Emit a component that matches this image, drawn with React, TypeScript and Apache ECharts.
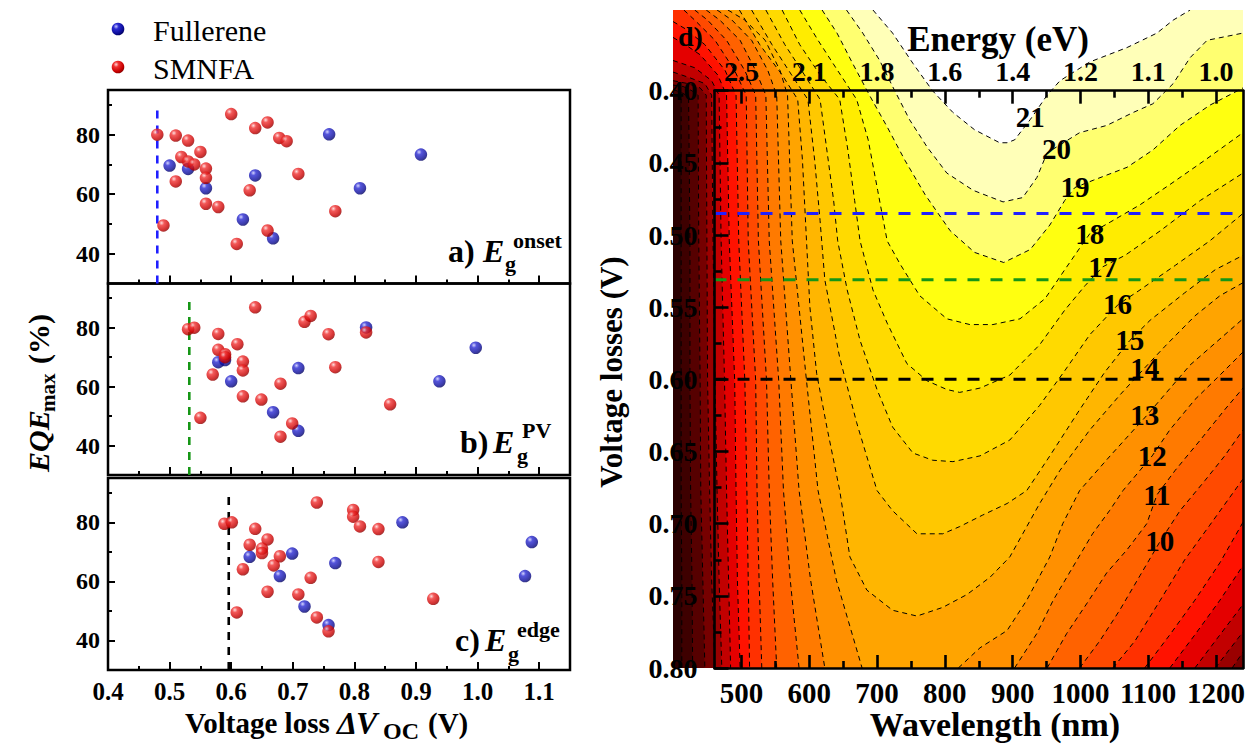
import React, { useEffect, useRef } from "react";
import * as echarts from "echarts";

const FONT = '"Liberation Serif", "Times New Roman", Times, serif';

// ---------------- Left panels: EQEmax vs voltage loss ----------------
const fullereneOnset = [[0.5, 69.6], [0.53, 68.5], [0.559, 62], [0.639, 66.3], [0.759, 80.1], [0.908, 73.3], [0.809, 62], [0.619, 51.5], [0.668, 45.2]];
const smnfaOnset = [[0.48, 80], [0.51, 79.7], [0.53, 78], [0.55, 74.2], [0.519, 72.5], [0.53, 71], [0.54, 70], [0.559, 68.6], [0.559, 65.5], [0.51, 64.3], [0.559, 56.8], [0.579, 55.7], [0.49, 49.5], [0.6, 86.9], [0.639, 82.2], [0.659, 84.1], [0.678, 78.9], [0.69, 77.8], [0.709, 66.8], [0.63, 61.3], [0.769, 54.3], [0.659, 47.8], [0.609, 43.3]];
const fullerenePV = [[0.579, 68.3], [0.59, 69], [0.6, 61.8], [0.709, 66.3], [0.819, 80.1], [0.997, 73.2], [0.938, 61.8], [0.668, 51.3], [0.709, 45]];
const smnfaPV = [[0.53, 79.5], [0.54, 80], [0.639, 86.9], [0.719, 82], [0.729, 84], [0.579, 77.9], [0.758, 77.8], [0.819, 78.4], [0.61, 74.4], [0.579, 72.5], [0.59, 71], [0.59, 70], [0.619, 68.5], [0.619, 65.5], [0.769, 66.6], [0.57, 64.1], [0.68, 61], [0.619, 56.7], [0.649, 55.6], [0.55, 49.4], [0.699, 47.5], [0.68, 43], [0.858, 54]];
const fullereneEdge = [[0.63, 68.3], [0.699, 69.4], [0.679, 61.8], [0.769, 66.2], [0.878, 80], [1.088, 73.3], [1.077, 61.8], [0.719, 51.5], [0.758, 45.2]];
const smnfaEdge = [[0.589, 79.5], [0.601, 80], [0.739, 86.7], [0.798, 84.2], [0.798, 81.9], [0.639, 77.8], [0.809, 78.6], [0.839, 77.7], [0.659, 74.2], [0.63, 72.4], [0.65, 71.1], [0.65, 69.6], [0.679, 68.5], [0.619, 64.1], [0.669, 65.4], [0.839, 66.6], [0.729, 61.2], [0.659, 56.5], [0.709, 55.6], [0.609, 49.5], [0.739, 47.8], [0.758, 43.1], [0.928, 54.1]];
const lossRange = [0.4, 1.15];
const eqeRange = [30, 95];
const eqeMajorTicks = [40, 60, 80];
const eqeMinorTicks = [50, 70, 90];
const panelMinLoss = [0.48, 0.532, 0.596];
const panelLineSpan = [30, 90];
const panelLetters = ["a)", "b)", "c)"];
const panelSuperscripts = ["onset", "PV", "edge"];

// ---------------- Right panel: efficiency contour map ----------------
const wavelengthRange = [460, 1240];
const lossRangeRight = [0.4, 0.8];
const wavelengthMajorTicks = [500, 600, 700, 800, 900, 1000, 1100, 1200];
const wavelengthMinorTicks = [550, 650, 750, 850, 950, 1050, 1150];
const energyTickLabels = ["2.5", "2.1", "1.8", "1.6", "1.4", "1.2", "1.1", "1.0"];
const rightMinLoss = [0.485, 0.531, 0.6];
const fieldWavelength = [399, 1240];
const fieldLoss = [0.344, 0.8];
const contourLevels = [1, 2, 3, 4, 5, 6, 7, 8, 9, 10, 11, 12, 13, 14, 15, 16, 17, 18, 19, 20, 21];
const contourSegments = [
  [[[399, 0.402], [405, 0.403], [411, 0.406], [411, 0.504], [411, 0.601], [411, 0.677], [412, 0.739], [412, 0.8]]],
  [[[399, 0.399], [415, 0.402], [422, 0.405], [424, 0.504], [424, 0.601], [425, 0.677], [427, 0.739], [428, 0.8]]],
  [[[399, 0.396], [414, 0.397], [427, 0.4], [436, 0.403], [437, 0.504], [439, 0.601], [440, 0.677], [443, 0.739], [446, 0.8]]],
  [[[399, 0.393], [421, 0.395], [439, 0.398], [448, 0.403], [449, 0.504], [450, 0.601], [453, 0.677], [456, 0.739], [461, 0.8]], [[1224, 0.8], [1240, 0.789]]],
  [[[399, 0.387], [424, 0.391], [446, 0.395], [456, 0.403], [458, 0.504], [461, 0.601], [464, 0.677], [467, 0.739], [471, 0.8]], [[1199, 0.8], [1240, 0.775]]],
  [[[399, 0.379], [431, 0.384], [456, 0.393], [467, 0.403], [470, 0.504], [475, 0.601], [478, 0.677], [481, 0.739], [484, 0.8]], [[1169, 0.8], [1206, 0.777], [1240, 0.756]]],
  [[[399, 0.363], [417, 0.368], [439, 0.375], [465, 0.389], [478, 0.403], [482, 0.504], [490, 0.601], [492, 0.677], [494, 0.739], [498, 0.8]], [[1132, 0.8], [1169, 0.777], [1206, 0.753], [1240, 0.729]]],
  [[[399, 0.352], [417, 0.357], [446, 0.368], [476, 0.386], [492, 0.403], [496, 0.504], [505, 0.601], [508, 0.677], [510, 0.739], [512, 0.8]], [[1095, 0.8], [1132, 0.777], [1169, 0.753], [1206, 0.727], [1240, 0.699]]],
  [[[415, 0.344], [431, 0.351], [461, 0.365], [490, 0.386], [507, 0.403], [510, 0.504], [521, 0.601], [523, 0.677], [526, 0.739], [530, 0.8]], [[1048, 0.8], [1081, 0.781], [1118, 0.753], [1154, 0.725], [1191, 0.701], [1240, 0.669]]],
  [[[431, 0.344], [450, 0.351], [478, 0.365], [505, 0.386], [521, 0.403], [525, 0.504], [537, 0.601], [541, 0.677], [546, 0.739], [552, 0.8]], [[999, 0.8], [1029, 0.781], [1058, 0.76], [1088, 0.736], [1118, 0.712], [1147, 0.691], [1184, 0.67], [1213, 0.653], [1240, 0.635]]],
  [[[448, 0.344], [468, 0.351], [498, 0.365], [521, 0.386], [536, 0.403], [541, 0.504], [555, 0.601], [562, 0.677], [572, 0.739], [585, 0.8]], [[951, 0.8], [980, 0.776], [1010, 0.755], [1039, 0.734], [1069, 0.718], [1098, 0.7], [1113, 0.68], [1140, 0.663], [1177, 0.642], [1213, 0.621], [1240, 0.606]]],
  [[[464, 0.344], [486, 0.351], [515, 0.365], [539, 0.386], [552, 0.403], [558, 0.504], [573, 0.601], [585, 0.677], [602, 0.739], [623, 0.8]], [[903, 0.8], [936, 0.776], [960, 0.753], [989, 0.73], [1018, 0.707], [1043, 0.691], [1063, 0.677], [1106, 0.653], [1132, 0.635], [1169, 0.614], [1206, 0.597], [1240, 0.581]]],
  [[[480, 0.344], [505, 0.351], [535, 0.365], [557, 0.386], [568, 0.403], [575, 0.504], [596, 0.601], [613, 0.677], [640, 0.739], [678, 0.8]], [[820, 0.8], [852, 0.786], [892, 0.774], [921, 0.753], [955, 0.723], [974, 0.7], [999, 0.677], [1044, 0.653], [1098, 0.625], [1162, 0.59], [1240, 0.558]]],
  [[[497, 0.344], [527, 0.368], [560, 0.389], [583, 0.406], [590, 0.448], [596, 0.504], [601, 0.55], [611, 0.596], [626, 0.633], [645, 0.677], [660, 0.723], [685, 0.746], [723, 0.76], [759, 0.764], [797, 0.758], [833, 0.749], [867, 0.737], [896, 0.723], [915, 0.707], [940, 0.686], [970, 0.663], [1014, 0.635], [1058, 0.611], [1095, 0.592], [1125, 0.577], [1169, 0.556], [1206, 0.542], [1240, 0.533]]],
  [[[515, 0.344], [545, 0.368], [574, 0.389], [598, 0.406], [608, 0.448], [616, 0.49], [623, 0.531], [645, 0.585], [670, 0.63], [700, 0.677], [723, 0.691], [759, 0.707], [797, 0.707], [822, 0.702], [856, 0.694], [892, 0.686], [921, 0.677], [955, 0.653], [999, 0.621], [1036, 0.595], [1073, 0.573], [1103, 0.559], [1154, 0.54], [1199, 0.524], [1240, 0.514]]],
  [[[536, 0.344], [564, 0.368], [593, 0.389], [616, 0.406], [628, 0.448], [636, 0.476], [642, 0.504], [656, 0.538], [675, 0.573], [700, 0.607], [723, 0.633], [753, 0.651], [782, 0.656], [812, 0.657], [852, 0.653], [896, 0.642], [940, 0.618], [977, 0.594], [1014, 0.569], [1056, 0.548], [1088, 0.538], [1140, 0.521], [1191, 0.504], [1240, 0.485]]],
  [[[560, 0.344], [586, 0.368], [616, 0.389], [645, 0.406], [657, 0.441], [667, 0.476], [675, 0.504], [694, 0.538], [715, 0.561], [744, 0.589], [774, 0.601], [803, 0.607], [822, 0.609], [852, 0.606], [896, 0.597], [940, 0.576], [977, 0.552], [1007, 0.535], [1033, 0.522], [1066, 0.514], [1118, 0.497], [1177, 0.476], [1240, 0.457]]],
  [[[586, 0.344], [613, 0.365], [642, 0.386], [670, 0.406], [687, 0.434], [701, 0.469], [715, 0.504], [734, 0.52], [763, 0.542], [803, 0.558], [837, 0.562], [871, 0.562], [911, 0.558], [948, 0.544], [977, 0.524], [1002, 0.507], [1014, 0.499], [1044, 0.491], [1088, 0.479], [1132, 0.465], [1184, 0.448], [1240, 0.429]]],
  [[[619, 0.344], [641, 0.36], [664, 0.381], [690, 0.404], [715, 0.425], [741, 0.448], [771, 0.472], [808, 0.497], [844, 0.512], [887, 0.519], [926, 0.51], [955, 0.493], [977, 0.476], [992, 0.467], [1019, 0.462], [1069, 0.453], [1107, 0.441], [1147, 0.424], [1191, 0.41], [1240, 0.398]]],
  [[[655, 0.344], [679, 0.36], [704, 0.379], [723, 0.397], [748, 0.42], [774, 0.439], [803, 0.457], [842, 0.469], [886, 0.477], [915, 0.474], [936, 0.46], [951, 0.443], [999, 0.429], [1039, 0.424], [1078, 0.415], [1107, 0.409], [1137, 0.395], [1162, 0.377], [1187, 0.365], [1240, 0.36]]],
  [[[694, 0.344], [723, 0.36], [753, 0.381], [782, 0.4], [812, 0.415], [844, 0.427], [881, 0.436], [892, 0.436], [903, 0.434], [926, 0.42], [951, 0.403], [970, 0.393], [1014, 0.38], [1069, 0.37], [1113, 0.36], [1137, 0.351], [1162, 0.344]]],
];
const contourCorners = [
  [[1240, 0.8], [1240, 0.344], [399, 0.344]],
  [[1240, 0.8], [1240, 0.344], [399, 0.344]],
  [[1240, 0.8], [1240, 0.344], [399, 0.344]],
  [[1240, 0.344], [399, 0.344]],
  [[1240, 0.344], [399, 0.344]],
  [[1240, 0.344], [399, 0.344]],
  [[1240, 0.344], [399, 0.344]],
  [[1240, 0.344], [399, 0.344]],
  [[1240, 0.344]], [[1240, 0.344]], [[1240, 0.344]], [[1240, 0.344]], [[1240, 0.344]],
  [[1240, 0.344]], [[1240, 0.344]], [[1240, 0.344]], [[1240, 0.344]], [[1240, 0.344]], [[1240, 0.344]], [[1240, 0.344]],
  [],
];
const contourLabelText = ["21", "20", "19", "18", "17", "16", "15", "14", "13", "12", "11", "10"];
const contourLabelPos = [[926, 0.418], [965, 0.44], [992, 0.467], [1014, 0.499], [1033, 0.522], [1055, 0.548], [1073, 0.573], [1095, 0.592], [1095, 0.625], [1106, 0.653], [1113, 0.68], [1117, 0.712]];

// styles
const bandColors = ["#2a0000", "#3e0000", "#560000", "#760000", "#9a0000", "#c20000", "#e40000", "#ff1200", "#ff3000", "#ff4a00", "#ff6200", "#ff7a00", "#ff9000", "#ffa400", "#ffb600", "#ffc800", "#ffda00", "#ffec00", "#ffff10", "#ffff70", "#ffffb8", "#ffffff"];
const thresholdColors = ["#1f1fff", "#169616", "#000000"];

const ball = (stops: string[]) =>
  new echarts.graphic.RadialGradient(0.35, 0.3, 0.75, [
    { offset: 0, color: stops[0] },
    { offset: 0.28, color: stops[1] },
    { offset: 0.75, color: stops[2] },
    { offset: 1, color: stops[3] },
  ]);

export default function App() {
  const ref = useRef<HTMLDivElement>(null);
  useEffect(() => {
    if (!ref.current) return;
    const chart = echarts.init(ref.current, undefined, { renderer: "svg" });
    const blueBall = ball(["#c8c8ff", "#2a2ad2", "#0c0c98", "#00005a"]);
    const redBall = ball(["#ffd6d6", "#f03030", "#c80000", "#860000"]);
    const bold = { fontFamily: FONT, fontWeight: "bold" as const, color: "#000" };

    const panelTops = [90, 283.5, 478];
    const panelHeights = [193.5, 191.5, 192];
    const panelData = [
      [fullereneOnset, smnfaOnset],
      [fullerenePV, smnfaPV],
      [fullereneEdge, smnfaEdge],
    ];

    const grid: any[] = [];
    const xAxis: any[] = [];
    const yAxis: any[] = [];
    const series: any[] = [];

    for (let i = 0; i < 3; i++) {
      grid.push({ left: 108, top: panelTops[i], width: 462, height: panelHeights[i], show: true, borderColor: "#000", borderWidth: 2.5, backgroundColor: "transparent" });
    }
    grid.push({ left: 673, top: 10, right: 5, bottom: 76 });
    grid.push({ left: 714.5, top: 90.7, right: 5, bottom: 76 });
    grid.push({ left: 714.5, top: 90.7, right: 5, bottom: 76 });
    for (let i = 0; i < 3; i++) grid.push({ left: 108, top: panelTops[i], width: 462, height: panelHeights[i] });

    for (let i = 0; i < 3; i++) {
      xAxis.push({
        type: "value", gridIndex: i, min: lossRange[0], max: lossRange[1], interval: 0.1,
        axisLine: { show: false },
        axisTick: { inside: true, length: 8, lineStyle: { color: "#000", width: 2 } },
        minorTick: { show: true, splitNumber: 2, length: 4, lineStyle: { color: "#000", width: 2 } },
        splitLine: { show: false },
        axisLabel: { show: i === 2, showMaxLabel: false, margin: 9, fontSize: 25, ...bold, formatter: (v: number) => v.toFixed(1) },
      });
    }
    xAxis.push({ type: "value", gridIndex: 3, min: fieldWavelength[0], max: fieldWavelength[1], show: false });
    const rightAxisCommon = { type: "value", gridIndex: 4, min: wavelengthRange[0], max: wavelengthRange[1], splitLine: { show: false }, z: 10 };
    xAxis.push({
      ...rightAxisCommon, position: "bottom",
      axisLine: { show: true, lineStyle: { color: "#000", width: 2.6 } },
      axisTick: { inside: true, length: 13, customValues: wavelengthMajorTicks, lineStyle: { color: "#000", width: 2.6 } },
      axisLabel: { customValues: wavelengthMajorTicks, margin: 10, fontSize: 29, ...bold, formatter: (v: number) => String(Math.round(v)) },
    });
    xAxis.push({
      ...rightAxisCommon, position: "top",
      axisLine: { show: true, lineStyle: { color: "#000", width: 2.6 } },
      axisTick: { inside: true, length: 13, customValues: wavelengthMajorTicks, lineStyle: { color: "#000", width: 2.6 } },
      axisLabel: { customValues: wavelengthMajorTicks, margin: 5, fontSize: 28, ...bold, formatter: (v: number) => energyTickLabels[wavelengthMajorTicks.indexOf(Math.round(v))] ?? "" },
    });
    for (const pos of ["bottom", "top"]) {
      xAxis.push({
        ...rightAxisCommon, gridIndex: 5, position: pos,
        axisLine: { show: false },
        axisTick: { inside: true, length: 7, customValues: wavelengthMinorTicks, lineStyle: { color: "#000", width: 2.6 } },
        axisLabel: { show: false },
      });
    }
    for (let i = 0; i < 3; i++) xAxis.push({ type: "value", gridIndex: 6 + i, min: lossRange[0], max: lossRange[1], show: false });

    for (let i = 0; i < 3; i++) {
      yAxis.push({
        type: "value", gridIndex: i, min: eqeRange[0], max: eqeRange[1],
        axisLine: { show: false }, splitLine: { show: false },
        axisTick: { inside: true, length: 7, customValues: eqeMajorTicks, lineStyle: { color: "#000", width: 2 } },
        axisLabel: { customValues: eqeMajorTicks, margin: 8, fontSize: 24, ...bold },
      });
    }
    yAxis.push({ type: "value", gridIndex: 3, min: fieldLoss[0], max: fieldLoss[1], inverse: true, show: false });
    yAxis.push({
      type: "value", gridIndex: 4, min: lossRangeRight[0], max: lossRangeRight[1], interval: 0.05, inverse: true, position: "left", z: 10,
      axisLine: { show: true, lineStyle: { color: "#000", width: 2.6 } },
      axisTick: { inside: true, length: 14, lineStyle: { color: "#000", width: 2.6 } },
      minorTick: { show: true, splitNumber: 2, length: 7, lineStyle: { color: "#000", width: 2.6 } },
      splitLine: { show: false },
      axisLabel: { margin: 17, fontSize: 28, ...bold, padding: [0, 0, 14, 0], formatter: (v: number) => v.toFixed(2) },
    });
    yAxis.push({
      type: "value", gridIndex: 4, min: lossRangeRight[0], max: lossRangeRight[1], inverse: true, position: "right", z: 10,
      axisLine: { show: true, lineStyle: { color: "#000", width: 2.6 } },
      axisTick: { show: false }, axisLabel: { show: false }, splitLine: { show: false },
    });
    yAxis.push({ type: "value", gridIndex: 5, min: lossRangeRight[0], max: lossRangeRight[1], show: false });
    for (let i = 0; i < 3; i++) {
      yAxis.push({
        type: "value", gridIndex: 6 + i, min: eqeRange[0], max: eqeRange[1],
        axisLine: { show: false }, splitLine: { show: false }, axisLabel: { show: false },
        axisTick: { inside: true, length: 4, customValues: eqeMinorTicks, lineStyle: { color: "#000", width: 2 } },
      });
    }

    for (let i = 0; i < 3; i++) {
      series.push({
        type: "line", xAxisIndex: i, yAxisIndex: i, symbol: "none", silent: true, z: 2,
        data: [[panelMinLoss[i], panelLineSpan[0]], [panelMinLoss[i], panelLineSpan[1]]],
        lineStyle: { color: thresholdColors[i], width: 2.6, type: [8, 7] },
      });
      series.push({ type: "scatter", name: "Fullerene", xAxisIndex: i, yAxisIndex: i, data: panelData[i][0], symbol: "circle", symbolSize: 12.5, itemStyle: { color: blueBall }, z: 3 });
      series.push({ type: "scatter", name: "SMNFA", xAxisIndex: i, yAxisIndex: i, data: panelData[i][1], symbol: "circle", symbolSize: 12.5, itemStyle: { color: redBall }, z: 4 });
    }

    const fieldRing = [[fieldWavelength[0], fieldLoss[0]], [fieldWavelength[1], fieldLoss[0]], [fieldWavelength[1], fieldLoss[1]], [fieldWavelength[0], fieldLoss[1]]];
    const rings = contourSegments.map((segs, i) => [...segs.flat(), ...contourCorners[i]]);
    const fillData = [[fieldWavelength[0], fieldLoss[0], 0], ...contourLevels.map((lv) => [fieldWavelength[0], fieldLoss[0], lv])];
    series.push({
      type: "custom", xAxisIndex: 3, yAxisIndex: 3, coordinateSystem: "cartesian2d", silent: true, clip: true, z: 1,
      data: fillData,
      renderItem: (_p: any, api: any) => {
        const lv = api.value(2);
        const ring = lv === 0 ? fieldRing : rings[lv - 1];
        return {
          type: "polygon",
          shape: { points: ring.map((pt: number[]) => api.coord(pt)) },
          style: { fill: bandColors[lv], stroke: bandColors[lv], lineWidth: 0.6 },
        };
      },
    });
    const segRefs: number[][] = [];
    contourSegments.forEach((segs, li) => segs.forEach((_s, si) => segRefs.push([fieldWavelength[0], fieldLoss[0], li, si])));
    series.push({
      type: "custom", xAxisIndex: 3, yAxisIndex: 3, coordinateSystem: "cartesian2d", silent: true, clip: true, z: 2,
      data: segRefs,
      renderItem: (_p: any, api: any) => {
        const seg = contourSegments[api.value(2)][api.value(3)];
        return {
          type: "polyline",
          shape: { points: seg.map((pt: number[]) => api.coord(pt)) },
          style: { stroke: "#000", lineWidth: 1, lineDash: [5, 4], fill: null },
        };
      },
    });
    series.push({
      type: "custom", xAxisIndex: 3, yAxisIndex: 3, coordinateSystem: "cartesian2d", silent: true, z: 3,
      data: contourLabelPos.map((p, i) => [p[0], p[1], i]),
      renderItem: (_p: any, api: any) => {
        const pt = api.coord([api.value(0), api.value(1)]);
        return {
          type: "text", x: pt[0], y: pt[1],
          style: { text: contourLabelText[api.value(2)], fill: "#000", fontSize: 29, fontWeight: "bold", fontFamily: FONT, align: "center", verticalAlign: "middle" },
        };
      },
    });
    rightMinLoss.forEach((v, i) => {
      series.push({
        type: "line", xAxisIndex: 4, yAxisIndex: 4, symbol: "none", silent: true, z: 5,
        data: [[wavelengthRange[0], v], [wavelengthRange[1], v]],
        lineStyle: { color: thresholdColors[i], width: 3, type: [12, 11] },
      });
    });

    const txt = (text: string, x: number, y: number, size: number, extra: any = {}) => ({
      type: "text", x, y, z: 100,
      style: { text, fontSize: size, fontFamily: FONT, fontWeight: "bold", fill: "#000", align: "left", verticalAlign: "middle", ...extra },
    });

    const graphic: any[] = [
      { type: "circle", shape: { cx: 118, cy: 29, r: 6.3 }, style: { fill: blueBall }, z: 100 },
      { type: "circle", shape: { cx: 118, cy: 67, r: 6.3 }, style: { fill: redBall }, z: 100 },
      txt("Fullerene", 153, 30, 30, { fontWeight: "normal" }),
      txt("SMNFA", 153, 68, 30, { fontWeight: "normal" }),
      txt(panelLetters[0], 448, 251, 32), txt("E", 483, 251, 32, { fontStyle: "italic" }), txt("g", 505, 263, 22), txt(panelSuperscripts[0], 513, 240, 22),
      txt(panelLetters[1], 460, 442, 32), txt("E", 493, 442, 32, { fontStyle: "italic" }), txt("g", 517, 455, 22), txt(panelSuperscripts[1], 522, 430, 22),
      txt(panelLetters[2], 455, 640, 32), txt("E", 485, 640, 32, { fontStyle: "italic" }), txt("g", 508, 653, 22), txt(panelSuperscripts[2], 517, 629, 22),
      txt("Voltage loss", 185, 723, 29),
      txt("Δ", 337, 723, 32, { fontStyle: "italic" }), txt("V", 356, 723, 32, { fontStyle: "italic" }),
      txt("OC", 383, 731, 24), txt("(V)", 428, 723, 29),
      {
        type: "group", x: 38, y: 386, rotation: Math.PI / 2, z: 100,
        children: [
          txt("EQE", -86, 0, 30, { fontStyle: "italic" }),
          txt("max", -26, 10, 21),
          txt("(%)", 22, 0, 30),
        ],
      },
      txt("Energy (eV)", 998, 39, 35, { align: "center" }),
      txt("Wavelength (nm)", 995, 724, 34, { align: "center" }),
      { ...txt("Voltage losses (V)", 611, 372, 31, { align: "center" }), rotation: Math.PI / 2 },
      txt("d)", 678, 36, 28),
    ];

    chart.setOption({
      animation: false,
      backgroundColor: "#fff",
      grid, xAxis, yAxis, series, graphic,
    });
    return () => chart.dispose();
  }, []);
  return <div ref={ref} style={{ position: "absolute", left: 0, top: 0, width: 1248, height: 744 }} />;
}
